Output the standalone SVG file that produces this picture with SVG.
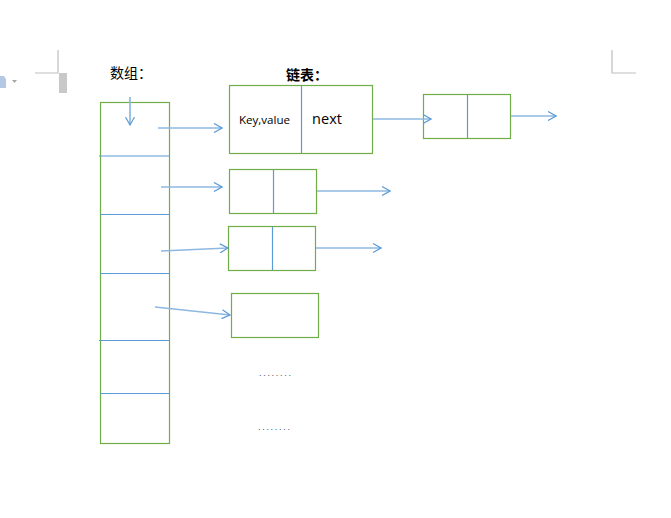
<svg xmlns="http://www.w3.org/2000/svg" width="671" height="518" viewBox="0 0 671 518">
  <style>
    .box { fill: none; stroke: #70AD47; stroke-width: 1.2; }
    .div { stroke: #5B9BD5; stroke-width: 1.2; }
    .arr { stroke: #8DB8E2; stroke-width: 1.7; fill: none; marker-end: url(#open); }
    .crop { stroke: #BFBFBF; stroke-width: 1.2; fill: none; }
    .cjk { font-family: "Noto Sans CJK SC", "Noto Sans", sans-serif; fill: #000; }
    .lat { font-family: "Open Sans", "Noto Sans", sans-serif; fill: #000; }
    .dots { font-family: "Liberation Sans", sans-serif; font-size: 9px; fill: #44546A; letter-spacing: 1.7px; }
  </style>
  <defs>
    <marker id="open" viewBox="0 0 10 10" refX="9" refY="5" markerWidth="10" markerHeight="10" markerUnits="userSpaceOnUse" orient="auto">
      <path d="M1,0.5 L9,5 L1,9.5" fill="none" stroke="#5B9BD5" stroke-width="1.2"/>
    </marker>
  </defs>
  <rect width="671" height="518" fill="#fff"/>

  <!-- page crop marks and toolbar remnants -->
  <g id="page-marks">
    <path class="crop" d="M58,50 V73 H35"/>
    <rect x="59" y="73" width="8" height="20" fill="#C8C8C8"/>
    <path class="crop" d="M612,50 V73 H636"/>
    <path d="M0,76 L4,76 L6,79 L6,88 L0,88 Z" fill="#B4C8E4"/>
    <path d="M12,80 L17,80 L14.5,83 Z" fill="#A6A6A6"/>
  </g>

  <!-- titles -->
  <text class="cjk" x="110" y="78" font-size="14">数组：</text>
  <text class="cjk" x="286" y="80" font-size="14" font-weight="bold">链表：</text>

  <!-- array column -->
  <g id="array">
    <rect class="box" x="100.5" y="102.5" width="69" height="341"/>
    <line class="div" x1="99" y1="156" x2="169" y2="156"/>
    <line class="div" x1="100" y1="214.5" x2="169" y2="214.5"/>
    <line class="div" x1="100" y1="273.5" x2="169" y2="273.5"/>
    <line class="div" x1="99" y1="340.5" x2="169" y2="340.5"/>
    <line class="div" x1="100" y1="393.5" x2="169" y2="393.5"/>
  </g>

  <!-- list nodes -->
  <g id="node-head">
    <rect class="box" x="229.5" y="85.5" width="143" height="68"/>
    <line class="div" x1="301.5" y1="86" x2="301.5" y2="153"/>
    <text class="lat" x="264.5" y="124" font-size="11.6" text-anchor="middle">Key,value</text>
    <text class="lat" x="327" y="124" font-size="14.5" text-anchor="middle">next</text>
  </g>
  <g id="node-1b">
    <rect class="box" x="423.5" y="94.5" width="87" height="44"/>
    <line class="div" x1="467.5" y1="95" x2="467.5" y2="138"/>
  </g>
  <g id="node-2">
    <rect class="box" x="229.5" y="169.5" width="87" height="44"/>
    <line class="div" x1="273.5" y1="170" x2="273.5" y2="213"/>
  </g>
  <g id="node-3">
    <rect class="box" x="228.5" y="226.5" width="87" height="44"/>
    <line class="div" x1="272.5" y1="227" x2="272.5" y2="270"/>
  </g>
  <g id="node-4">
    <rect class="box" x="231.5" y="293.5" width="87" height="44"/>
  </g>

  <!-- connectors -->
  <g id="connectors">
    <line class="arr" x1="130" y1="97" x2="130" y2="125"/>
    <line class="arr" x1="158" y1="128" x2="222" y2="128"/>
    <line class="arr" x1="373" y1="119" x2="431" y2="119"/>
    <line class="arr" x1="511" y1="116" x2="556" y2="116"/>
    <line class="arr" x1="161" y1="187" x2="222" y2="187"/>
    <line class="arr" x1="317" y1="191" x2="390" y2="191"/>
    <line class="arr" x1="161" y1="251" x2="228" y2="248"/>
    <line class="arr" x1="316" y1="248" x2="381" y2="248"/>
    <line class="arr" x1="155" y1="307" x2="230" y2="315"/>
  </g>

  <!-- ellipsis rows -->
  <text class="dots" x="259" y="376">........</text>
  <text class="dots" x="258" y="430">........</text>
</svg>
